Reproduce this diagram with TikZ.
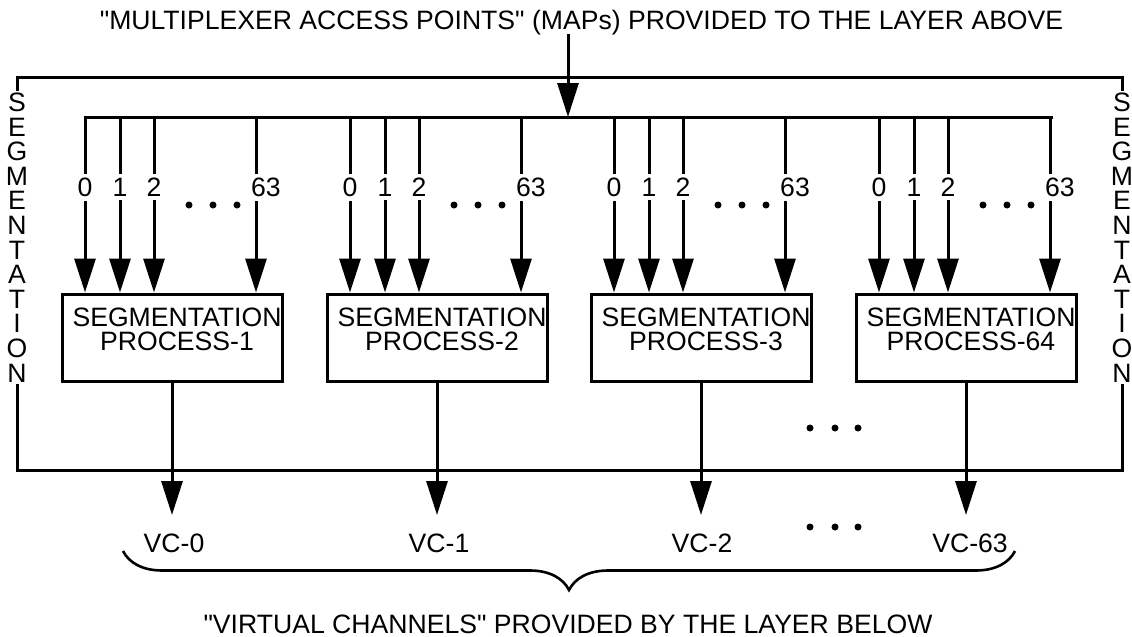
\documentclass[tikz,border=0pt]{standalone}
\usepackage{fontspec}
\setmainfont{Liberation Sans}[Ligatures=TeXOff]
\usetikzlibrary{arrows.meta,decorations.pathreplacing}
\tikzstyle{wire}=[line width=1.5pt, black, line cap=rect]
\tikzstyle{feed}=[wire, -{Triangle[length=17pt, width=10.5pt]}]
\tikzstyle{process}=[draw, line width=1.5pt, minimum width=110pt, minimum height=43.5pt, inner sep=0pt]
\tikzstyle{caption}=[font=\fontsize{13.3}{12}\selectfont, inner sep=0pt]
\tikzstyle{port}=[caption, fill=white, inner sep=2pt]
\tikzstyle{vertical}=[caption, align=center, fill=white, inner sep=1pt, font=\fontsize{13.3}{12.3}\selectfont]
\tikzstyle{dot}=[circle, fill=black, inner sep=0pt, minimum size=3.5pt]

\begin{document}
\begin{tikzpicture}[x=0.5pt, y=-0.5pt]
  \useasboundingbox (0,0) rectangle (1132,637);
  \def\busy{117}    % height of the MAP bus
  \def\boxy{337.5}  % centre height of the processes

  % FRAME
  \draw[wire] (17,77) rectangle (1122,470);
  \node[vertical] (SL) at (17,237.5) {S\\E\\G\\M\\E\\N\\T\\A\\T\\I\\O\\N};
  \node[vertical] (SR) at (1122,237.5) {S\\E\\G\\M\\E\\N\\T\\A\\T\\I\\O\\N};

  % MAPS FROM THE LAYER ABOVE
  \node[caption, anchor=base] (map) at (581.5,30)
    {"MULTIPLEXER ACCESS POINTS" (MAPs) PROVIDED TO THE LAYER ABOVE};
  \coordinate (in) at (568,\busy);
  \draw[feed] (map.south -| in) -- (in);
  \coordinate (bus-l) at (85,\busy);
  \coordinate (bus-r) at (1051,\busy);
  \draw[wire] (bus-l) -- (bus-r);

  % PROCESSES
  \foreach \i/\x/\n/\vc/\dx in {1/172/1/0/2, 2/437/2/1/2, 3/701/3/2/1, 4/966/64/63/4}{
    \node[process] (SP-\i) at (\x,\boxy) {};
    \node[caption, align=center] (ST-\i) at ([shift={(5,-8)}]SP-\i.center)
      {SEGMENTATION\\PROCESS-\n};
    \foreach \j/\dj/\sx in {0/-87/0, 1/-52/0, 2/-18/0, 63/84/5}{  % one arrow per MAP
      \coordinate (M-\i-\j) at (\x+\dj,\busy);
      \draw[feed] (M-\i-\j) -- (M-\i-\j |- SP-\i.north)
        node[port, pos=0.40, xshift=\sx pt] {\j};
    }
    \foreach \d in {17,41,65}
      \node[dot] at (\x+\d,205) {};
    % output to the virtual channel
    \coordinate (VC-\i) at (\x,515);
    \draw[feed] (SP-\i.south) -- (VC-\i);
    \node[caption, anchor=base] (VL-\i) at (\x+\dx,552) {VC-\vc};
  }

  % DOTS
  \foreach \y in {428,527}
    \foreach \d in {810,835,858}
      \node[dot] at (\d,\y) {};

  % VIRTUAL CHANNELS TO THE LAYER BELOW
  \coordinate (br-l) at (123,551);
  \coordinate (br-r) at (1015,551);
  \draw[line width=1.3pt, decorate, decoration={brace, mirror, amplitude=19.5pt}] (br-l) -- (br-r);
  \node[caption, anchor=base] (vcs) at (568,633)
    {"VIRTUAL CHANNELS" PROVIDED BY THE LAYER BELOW};
\end{tikzpicture}
\end{document}
